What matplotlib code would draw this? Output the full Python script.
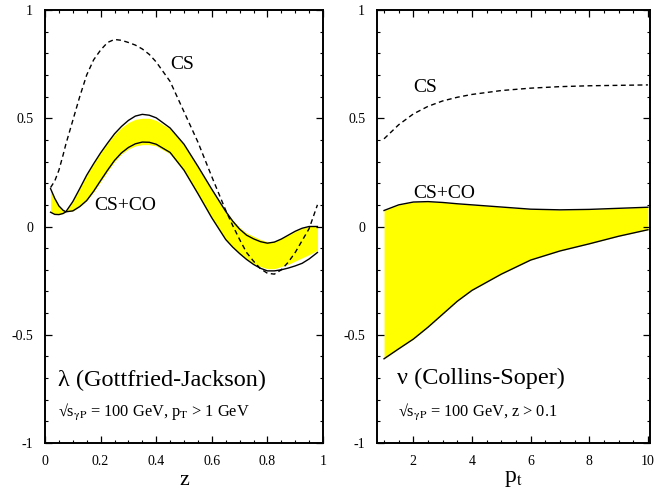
import matplotlib
matplotlib.use('Agg')
import matplotlib.pyplot as plt
from matplotlib.ticker import MultipleLocator

plt.rcParams['font.family'] = ['Liberation Serif', 'DejaVu Serif']
plt.rcParams['mathtext.fontset'] = 'stix'

# ---- left panel: lambda vs z ----
z = [0.02, 0.035, 0.05, 0.065, 0.075, 0.1, 0.125, 0.15, 0.175, 0.2, 0.225, 0.25,
     0.275, 0.3, 0.325, 0.35, 0.375, 0.4, 0.45, 0.5, 0.55, 0.6, 0.65, 0.675,
     0.7, 0.725, 0.75, 0.775, 0.8, 0.825, 0.85, 0.875, 0.9, 0.925, 0.95, 0.98]
lam_cs = [0.18, 0.21, 0.26, 0.33, 0.38, 0.49, 0.6, 0.7, 0.77, 0.815, 0.85, 0.864,
          0.86, 0.85, 0.838, 0.82, 0.795, 0.76, 0.67, 0.53, 0.39, 0.23, 0.075, 0.005,
          -0.06, -0.12, -0.16, -0.195, -0.216, -0.22, -0.2, -0.165, -0.12, -0.065, -0.01, 0.10]
lam_a = [0.175, 0.13, 0.095, 0.075, 0.068, 0.072, 0.092, 0.12, 0.163, 0.212, 0.26, 0.305,
         0.34, 0.365, 0.382, 0.39, 0.389, 0.38, 0.342, 0.26, 0.152, 0.04, -0.06, -0.095,
         -0.125, -0.152, -0.175, -0.193, -0.205, -0.205, -0.2, -0.192, -0.182, -0.17, -0.15, -0.12]
lam_b = [0.066, 0.056, 0.055, 0.06, 0.068, 0.115, 0.175, 0.237, 0.29, 0.34, 0.385, 0.428,
         0.462, 0.49, 0.51, 0.518, 0.514, 0.502, 0.455, 0.38, 0.278, 0.172, 0.07, 0.025,
         -0.012, -0.04, -0.057, -0.07, -0.077, -0.072, -0.058, -0.04, -0.022, -0.008, 0.0, 0.0]
band_hi = [0.175, 0.13, 0.095, 0.075, 0.068, 0.115, 0.175, 0.237, 0.29, 0.34, 0.385, 0.425,
           0.457, 0.48, 0.495, 0.5, 0.5, 0.49, 0.45, 0.38, 0.278, 0.172, 0.072, 0.03,
           -0.005, -0.03, -0.045, -0.06, -0.07, -0.068, -0.056, -0.04, -0.022, -0.008, 0.0, 0.0]
band_lo = [0.066, 0.056, 0.055, 0.06, 0.068, 0.072, 0.092, 0.12, 0.16, 0.207, 0.255, 0.3,
           0.335, 0.358, 0.372, 0.378, 0.378, 0.372, 0.335, 0.255, 0.15, 0.04, -0.06, -0.095,
           -0.125, -0.15, -0.17, -0.185, -0.195, -0.195, -0.185, -0.175, -0.16, -0.145, -0.13, -0.11]

# ---- right panel: nu vs p_t ----
pt = [1.0, 1.5, 2.0, 2.5, 3.0, 3.5, 4.0, 5.0, 6.0, 7.0, 8.0, 9.0, 10.0]
nu_cs = [0.405, 0.47, 0.52, 0.555, 0.58, 0.597, 0.61, 0.628, 0.639, 0.646, 0.65, 0.652, 0.654]
nu_hi = [0.074, 0.10, 0.113, 0.115, 0.111, 0.105, 0.10, 0.09, 0.08, 0.077, 0.079, 0.084, 0.089]
nu_lo = [-0.611, -0.565, -0.52, -0.465, -0.405, -0.345, -0.295, -0.22, -0.155, -0.113, -0.08, -0.045, -0.015]

fig = plt.figure(figsize=(6.55, 4.93), dpi=100)
ax1 = fig.add_axes([45 / 655, 50 / 493, 278 / 655, 433 / 493])
ax2 = fig.add_axes([377 / 655, 50 / 493, 273 / 655, 433 / 493])

yellow = '#ffff00'

ax1.fill_between(z, band_lo, band_hi, color=yellow, lw=0)
ax1.plot(z, lam_a, color='black', lw=1.0)
ax1.plot(z, lam_b, color='black', lw=1.0)
ax1.plot(z, lam_cs, color='black', lw=1.0, ls=(0, (3.5, 2.5)))

ax2.fill_between(pt, nu_lo, nu_hi, color=yellow, lw=0)
ax2.plot(pt, nu_hi, color='black', lw=1.0)
ax2.plot(pt, nu_lo, color='black', lw=1.0)
ax2.plot(pt, nu_cs, color='black', lw=1.0, ls=(0, (3.5, 2.5)))

for ax in (ax1, ax2):
    ax.set_ylim(-1, 1)
    ax.yaxis.set_major_locator(MultipleLocator(0.5))
    ax.yaxis.set_minor_locator(MultipleLocator(0.1))
    ax.yaxis.set_major_formatter(plt.FuncFormatter(lambda v, p: f'{v:g}'))
    ax.tick_params(which='both', direction='in', top=True, right=True,
                   labelsize=10, pad=8.5)
    ax.tick_params(which='major', length=5, width=0.9)
    ax.tick_params(which='minor', length=2.5, width=0.8)
    for s in ax.spines.values():
        s.set_linewidth(1.4)

ax1.set_xlim(0, 1)
ax1.xaxis.set_major_locator(MultipleLocator(0.2))
ax1.xaxis.set_minor_locator(MultipleLocator(0.05))
ax1.xaxis.set_major_formatter(plt.FuncFormatter(lambda v, p: f'{v:g}'))
ax1.set_xlabel('z', fontsize=16, labelpad=2)

ax2.set_xlim(0.76, 10.07)
ax2.xaxis.set_major_locator(MultipleLocator(2))
ax2.xaxis.set_minor_locator(MultipleLocator(0.5))
ax2.set_xlabel('p$_\\mathrm{t}$', fontsize=17, labelpad=0)

ax1.text(0.492, 0.747, 'CS', fontsize=14, ha='center', va='center')
ax1.text(0.288, 0.097, 'CS+CO', fontsize=14, ha='center', va='center')
ax1.text(0.047, -0.711, '\u03bb (Gottfried-Jackson)', fontsize=17.5, ha='left', va='center')
ax1.text(0.047, -0.858, '\u221as$_{\\mathrm{\\gamma P}}$ = 100 GeV, p$_\\mathrm{T}$ > 1 GeV',
         fontsize=11.8, ha='left', va='center')

ax2.text(2.41, 0.641, 'CS', fontsize=14, ha='center', va='center')
ax2.text(1.98, 0.154, 'CS+CO', fontsize=14, ha='left', va='center')
ax2.text(1.45, -0.700, '\u03bd (Collins-Soper)', fontsize=17.5, ha='left', va='center')
ax2.text(1.48, -0.858, '\u221as$_{\\mathrm{\\gamma P}}$ = 100 GeV, z > 0.1',
         fontsize=11.8, ha='left', va='center')

fig.savefig('out.png', dpi=100)
